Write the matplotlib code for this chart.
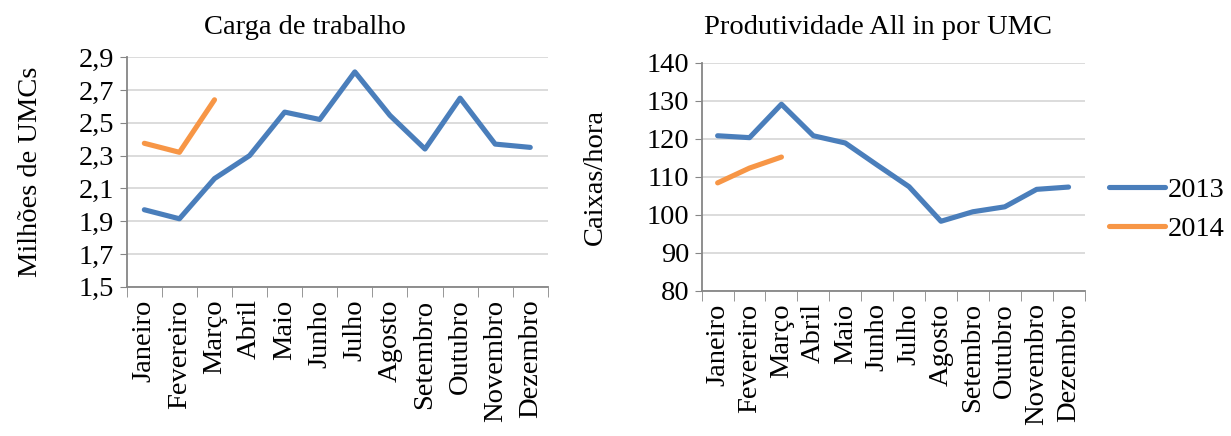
import matplotlib
matplotlib.use("Agg")
import matplotlib.pyplot as plt
from matplotlib.ticker import FuncFormatter
import numpy as np

plt.rcParams['font.family'] = ['Liberation Serif', 'DejaVu Serif']

meses = ['Janeiro', 'Fevereiro', 'Março', 'Abril', 'Maio', 'Junho', 'Julho',
         'Agosto', 'Setembro', 'Outubro', 'Novembro', 'Dezembro']

carga_2013 = [1.97, 1.915, 2.16, 2.30, 2.565, 2.52, 2.81, 2.545, 2.34, 2.65, 2.37, 2.35]
carga_2014 = [2.375, 2.32, 2.64]

prod_2013 = [120.8, 120.3, 129.1, 120.8, 118.9, 113.1, 107.4, 98.3, 100.8, 102.1, 106.7, 107.3]
prod_2014 = [108.4, 112.3, 115.2]

azul = '#4A7EBB'
laranja = '#F79646'
fs = 20.5

fig = plt.figure(figsize=(12.31, 4.36), dpi=100)
ax1 = fig.add_axes([0.103, 0.342, 0.342, 0.527])
ax2 = fig.add_axes([0.570, 0.333, 0.311, 0.523])


def estilo(ax, yticks):
    x = np.arange(len(meses))
    ax.set_xlim(-0.5, len(meses) - 0.5)
    ax.set_ylim(yticks[0], yticks[-1])
    ax.set_yticks(yticks)
    ax.set_xticks(x)
    ax.set_xticklabels(meses, rotation=90, fontsize=fs)
    ax.set_xticks(np.arange(-0.5, len(meses)), minor=True)
    ax.tick_params(axis='x', which='major', length=0, pad=9)
    ax.tick_params(axis='x', which='minor', length=7, color='#868686')
    ax.tick_params(axis='y', length=5, color='#868686', labelsize=fs, pad=4)
    ax.grid(axis='y', color='#D9D9D9', linewidth=1.3)
    ax.set_axisbelow(True)
    for s in ['top', 'right']:
        ax.spines[s].set_visible(False)
    for s in ['left', 'bottom']:
        ax.spines[s].set_color('#868686')
        ax.spines[s].set_linewidth(1.3)


x = np.arange(len(meses))
ax1.plot(x, carga_2013, color=azul, lw=3.7, solid_capstyle='round')
ax1.plot(x[:len(carga_2014)], carga_2014, color=laranja, lw=3.7, solid_capstyle='round')
estilo(ax1, np.round(np.arange(1.5, 2.95, 0.2), 1))
ax1.yaxis.set_major_formatter(FuncFormatter(lambda v, p: f'{v:.1f}'.replace('.', ',')))
ax1.set_title('Carga de trabalho', fontsize=fs, pad=17, x=0.423)
ax1.set_ylabel('Milhões de UMCs', fontsize=fs, labelpad=26)

l1, = ax2.plot(x, prod_2013, color=azul, lw=3.7, solid_capstyle='round', label='2013')
l2, = ax2.plot(x[:len(prod_2014)], prod_2014, color=laranja, lw=3.7, solid_capstyle='round', label='2014')
estilo(ax2, np.arange(80, 141, 10))
ax2.set_title('Produtividade All in por UMC', fontsize=fs, pad=21, x=0.46)
ax2.set_ylabel('Caixas/hora', fontsize=fs, labelpad=28)

fig.legend(handles=[l1, l2], loc='center left', bbox_to_anchor=(0.901, 0.52),
           frameon=False, fontsize=fs, handlelength=1.95, handletextpad=0.1,
           labelspacing=0.45, borderaxespad=0, borderpad=0)

fig.savefig('out.png', dpi=100)
